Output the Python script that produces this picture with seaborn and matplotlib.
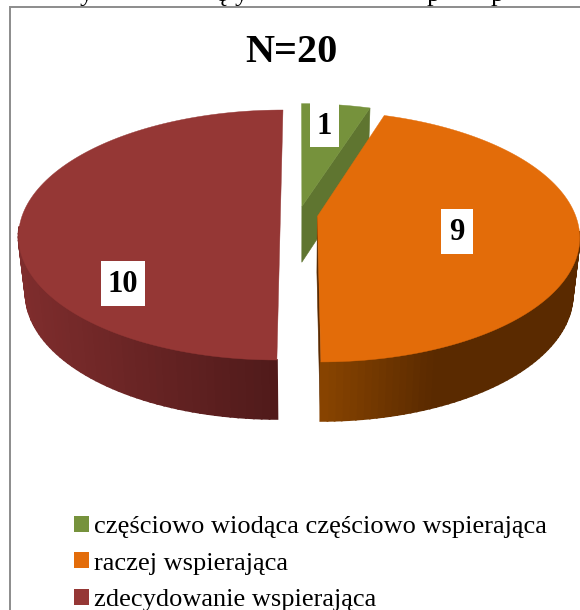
import numpy as np
import seaborn as sns
import matplotlib.pyplot as plt
from matplotlib.patches import Patch, Rectangle

# Data
categories = ['częściowo wiodąca częściowo wspierająca', 'raczej wspierająca', 'zdecydowanie wspierająca']
values = [1, 9, 10]
title = 'N=20'

top_colors = ['#76923c', '#e36c09', '#953735']
cut_colors = ['#5f7530', '#5a2a00', '#4f1a1a']
side_left = ['#5f7530', '#5a2a00', '#7f2d2d']
side_right = ['#5f7530', '#8a4500', '#4f1a1a']
palette = sns.color_palette(top_colors)

sns.set_theme(style='white')
plt.rcParams['font.family'] = ['Liberation Serif', 'DejaVu Serif']

fig, ax = plt.subplots(figsize=(5.8, 6.1), dpi=100)
ax.set_position([0, 0, 1, 1])
ax.set_xlim(0, 580)
ax.set_ylim(610, 0)
ax.axis('off')

# Pie geometry in pixels, disc coordinates go through a small perspective
cx, cy = 299, 215
bx, by, persp = 258, 121.8, 0.16
explode = 0.072
depth, shrink_x, shrink_y = 56, 0.975, 1.02


def project(u, v, bottom=False):
    w = 1 + persp * v
    x, y = bx * u / w, -by * v / w
    if bottom:
        return cx + x * shrink_x, cy + depth + y * shrink_y
    return cx + x, cy + y


# Slice angles, clockwise from the top
shares = np.array(values) / sum(values) * 2 * np.pi
ends = np.cumsum(shares)
starts = ends - shares


def slice_points(i, bottom=False):
    mid = (starts[i] + ends[i]) / 2
    off_u, off_v = explode * np.sin(mid), explode * np.cos(mid)
    t = np.linspace(starts[i], ends[i], 120)
    rim = project(np.sin(t) + off_u, np.cos(t) + off_v, bottom)
    apex = project(off_u, off_v, bottom)
    return apex, rim, t


def mix(c1, c2, f):
    a, b = np.array(plt.matplotlib.colors.to_rgb(c1)), np.array(plt.matplotlib.colors.to_rgb(c2))
    return a + (b - a) * f


# Back slices first so orange can overlap the green cut face
for i in [0, 2, 1]:
    apex_t, rim_t, t = slice_points(i)
    apex_b, rim_b, _ = slice_points(i, bottom=True)

    # cut face of the last edge, the red slice shows none
    if i != 2:
        xs = [apex_t[0], rim_t[0][-1], rim_b[0][-1], apex_b[0]]
        ys = [apex_t[1], rim_t[1][-1], rim_b[1][-1], apex_b[1]]
        ax.fill(xs, ys, color=cut_colors[i], lw=0.4)

    # outer wall, shaded strip by strip
    lo, hi = rim_t[0].min(), rim_t[0].max()
    for k in range(len(t) - 1):
        if np.cos(t[k]) > -0.1:
            continue
        f = (rim_t[0][k] - lo) / (hi - lo)
        if i == 1:
            col = mix(side_right[i], side_left[i], min(f / 0.45, 1))
        else:
            col = mix(side_left[i], side_right[i], f)
        xs = [rim_t[0][k], rim_t[0][k + 1], rim_b[0][k + 1], rim_b[0][k]]
        ys = [rim_t[1][k], rim_t[1][k + 1], rim_b[1][k + 1], rim_b[1][k]]
        ax.fill(xs, ys, color=col, lw=1.3)

    # top surface
    ax.fill(np.r_[apex_t[0], rim_t[0]], np.r_[apex_t[1], rim_t[1]], color=palette[i], lw=0.3)

# Chart frame, it runs off the crop on the right and at the bottom
ax.plot([10, 10, 585], [615, 7, 7], color='#8c8c8c', lw=1.4, solid_joinstyle='miter')

# Clipped descenders of the line of text above the chart
for ch, x in zip(['y', 'ę', 'y', 'p', 'p'], [86, 222, 241, 433, 497]):
    ax.text(x, 0.5, ch, ha='center', va='baseline', fontsize=19, color='black')

ax.text(291, 52, title, ha='center', va='center', fontsize=29, fontweight='bold', color='black')

# Value labels on white boxes
label_boxes = [(310, 102, 29, 45), (441, 209, 32, 45), (101, 261, 44, 45)]
for val, (x, y, w, h) in zip(values, label_boxes):
    ax.add_patch(Rectangle((x, y), w, h, facecolor='white', edgecolor='none', zorder=5))
    ax.text(x + w / 2, y + h / 2 + 1.5, str(val), ha='center', va='center', fontsize=22,
            fontweight='bold', color='black', zorder=6)

handles = [Patch(facecolor=c, edgecolor='none') for c in palette]
ax.legend(handles, categories, loc='upper left', bbox_to_anchor=(74 / 580, 1 - 516 / 610), frameon=False,
          fontsize=19, handlelength=0.56, handleheight=0.56, handletextpad=0.19, labelspacing=0.53,
          borderpad=0, borderaxespad=0, labelcolor='black')

fig.savefig('out.png', dpi=100)
